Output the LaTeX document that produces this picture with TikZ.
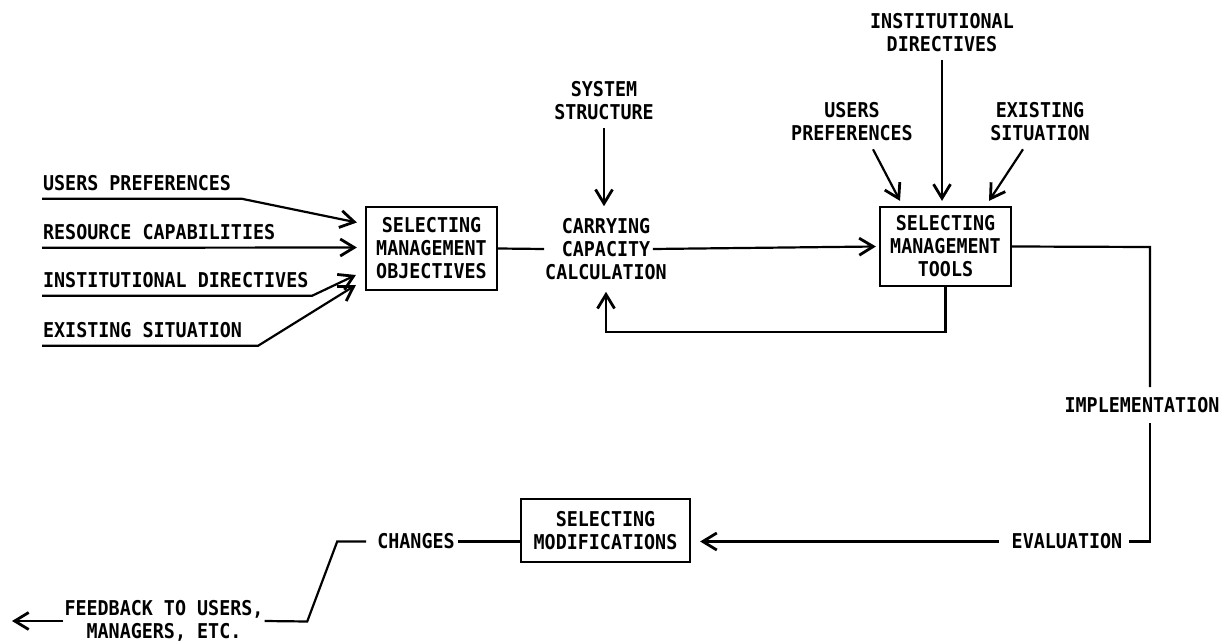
\documentclass[tikz,border=0pt]{standalone}
\usepackage{fontspec}
\usetikzlibrary{arrows.meta}
\newfontfamily\typefont[FakeStretch=0.9]{DejaVu Sans Mono}
\tikzset{
  txt/.style={font=\typefont\bfseries\fontsize{10.2}{11.5}\selectfont, align=center, inner sep=0pt},
  blk/.style={txt, draw, line width=1.1pt},
}

\begin{document}
\begin{tikzpicture}[x=0.5pt,y=-0.5pt,line width=1.1pt,>={Straight Barb[length=7pt,width=8.5pt,line width=1.4pt]}]
\useasboundingbox (0,0) rectangle (1219,641);
  \node[blk,minimum width=65.5pt,minimum height=41.5pt] (obj) at (431.5,248.5) {SELECTING\\MANAGEMENT\\OBJECTIVES};
  \node[blk,minimum width=65.5pt,minimum height=39.5pt] (tools) at (945.5,246.5) {SELECTING\\MANAGEMENT\\TOOLS};
  \node[blk,minimum width=84.5pt,minimum height=31.5pt] (mod) at (605.5,530.5) {SELECTING\\MODIFICATIONS};
  \node[txt,anchor=west] (up) at (42,183) {USERS PREFERENCES};
  \node[txt,anchor=west] (rc) at (42,232) {RESOURCE CAPABILITIES};
  \node[txt,anchor=west] (id) at (42,280) {INSTITUTIONAL DIRECTIVES};
  \node[txt,anchor=west] (es) at (42,330) {EXISTING SITUATION};
  \node[txt,inner ysep=5.5pt] (carry) at (606,249) {CARRYING\\CAPACITY\\CALCULATION};
  \node[txt,inner ysep=3.5pt] (sys) at (604,101) {SYSTEM\\STRUCTURE};
  \node[txt,inner ysep=3.5pt] (inst) at (942,32.5) {INSTITUTIONAL\\DIRECTIVES};
  \node[txt,inner ysep=3.5pt] (upr) at (852,122) {USERS\\PREFERENCES};
  \node[txt,inner ysep=3.5pt] (exs) at (1040,122) {EXISTING\\SITUATION};
  \node[txt,inner ysep=4.5pt] (impl) at (1142,405) {IMPLEMENTATION};
  \node[txt,inner sep=1pt] (eval) at (1067,541.5) {EVALUATION};
  \node[txt,inner sep=1pt] (chg) at (416,541.5) {CHANGES};
  \node[txt] (fb) at (164,621) {FEEDBACK TO USERS,\\MANAGERS, ETC.};
  \coordinate (rt) at (1150,247);
  \coordinate (fbend) at (12,621);
\draw[->] ([yshift=-3.5pt]up.south west) -- ++(200,0) -- ([shift={(-8,-26)}]obj.west);
\draw[->] ([yshift=-3.5pt]rc.south west) -- ([shift={(-8,-1)}]obj.west);
\draw[->] ([yshift=-3.5pt]id.south west) -- ++(270,0) -- ([shift={(-9,26.5)}]obj.west);
\draw[->] ([yshift=-3.5pt]es.south west) -- ++(216,0) -- ([shift={(-9,36.5)}]obj.west);
\draw (obj.east) -- (carry.west);
\draw[->] (sys.south) -- (sys.south |- carry.north);
\draw[->] ([xshift=-7.5pt]carry.east) -- ([xshift=-1.5pt]tools.west);
\draw[->] (inst.south) -- ([yshift=2.5pt]inst.south |- tools.north);
\draw[->] ([xshift=10.5pt]upr.south) -- ([shift={(-45.5,-5)}]tools.north);
\draw[->] ([xshift=-8.5pt]exs.south) -- ([shift={(43.5,-5)}]tools.north);
\draw[->] (tools.south) -- ++(0,45) -| (carry.south);
\draw (tools.east) -- (rt) -- (rt |- impl.north);
\draw (rt |- impl.south) |- ([xshift=2pt]eval.east);
\draw[->] ([xshift=-5pt]eval.west) -- ([shift={(9,11)}]mod.east);
\draw (chg.east) -- ([shift={(0,11)}]mod.west);
\draw ([xshift=-4pt]chg.west) -- ++(-29,0) -- ++(-30,80) -- (fb.east);
\draw[->] (fb.west) -- (fbend);
\end{tikzpicture}
\end{document}
